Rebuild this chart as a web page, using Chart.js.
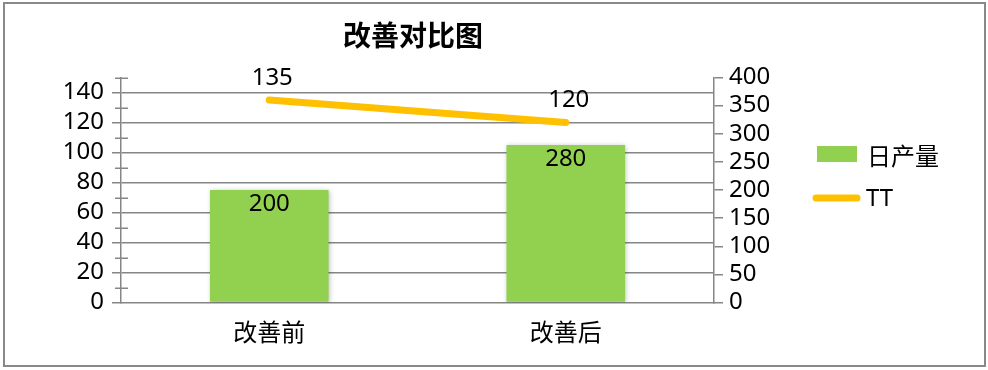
<!DOCTYPE html>
<html>
<head>
<meta charset="utf-8">
<script src="https://cdn.jsdelivr.net/npm/chart.js@4/dist/chart.umd.min.js"></script>
<style>
  html, body { margin: 0; padding: 0; background: #fff; }
  #wrap { width: 988px; height: 370px; position: relative; }
</style>
</head>
<body>
<div id="wrap"><canvas id="chart" width="988" height="370"></canvas></div>
<script>
// chart data
const categories = ['改善前', '改善后'];
const dailyOutput = [200, 280];   // 日产量, right axis
const ttValues = [135, 120];      // TT, left axis

// axis ranges
const leftMax = 150, leftStep = 10, leftLabelStep = 20;
const rightMax = 400, rightStep = 50;

const axisGray = '#868686';
const barGreen = '#92D050';
const lineOrange = '#FFC000';
const numFont = '"Noto Sans", "Open Sans", sans-serif';
const cjkFont = '"Noto Sans CJK SC", "Noto Sans", sans-serif';

// draws title, frame, legend, minor ticks and value labels
const extrasPlugin = {
  id: 'extras',
  beforeDatasetDraw(chart, args) {
    if (args.index === 0) {
      const ctx = chart.ctx;
      ctx.save();
      ctx.shadowColor = 'rgba(0,0,0,0.28)';
      ctx.shadowBlur = 5;
      ctx.shadowOffsetX = 1;
      ctx.shadowOffsetY = 1;
    }
  },
  afterDatasetDraw(chart, args) {
    if (args.index === 0) chart.ctx.restore();
  },
  afterDraw(chart) {
    const ctx = chart.ctx;
    ctx.save();

    // outer frame
    ctx.strokeStyle = '#898989';
    ctx.lineWidth = 2;
    ctx.strokeRect(4, 3, 981, 363);

    // title
    ctx.fillStyle = '#000';
    ctx.font = 'bold 28px ' + cjkFont;
    ctx.textAlign = 'center';
    ctx.textBaseline = 'middle';
    ctx.fillText('改善对比图', 413, 35);

    // minor ticks on left axis (cross the axis line)
    const yL = chart.scales.yL;
    ctx.strokeStyle = axisGray;
    ctx.lineWidth = 1.5;
    for (let v = leftStep; v <= leftMax; v += leftLabelStep) {
      const py = Math.round(yL.getPixelForValue(v)) + 0.25;
      ctx.beginPath();
      ctx.moveTo(yL.right - 6, py);
      ctx.lineTo(yL.right + 7, py);
      ctx.stroke();
    }

    // value labels
    ctx.fillStyle = '#000';
    ctx.font = '24px ' + numFont;
    ctx.textAlign = 'center';
    ctx.textBaseline = 'middle';
    chart.getDatasetMeta(0).data.forEach((el, i) => {
      ctx.fillText(String(dailyOutput[i]), el.x, el.y + 14);
    });
    chart.getDatasetMeta(1).data.forEach((el, i) => {
      ctx.fillText(String(ttValues[i]), el.x + 3, el.y - 22);
    });

    // legend
    const ds = chart.data.datasets;
    ctx.fillStyle = ds[0].backgroundColor;
    ctx.fillRect(817, 146, 40, 16);
    ctx.strokeStyle = ds[1].borderColor;
    ctx.lineWidth = 7;
    ctx.lineCap = 'round';
    ctx.beginPath();
    ctx.moveTo(816, 198);
    ctx.lineTo(857, 198);
    ctx.stroke();
    ctx.fillStyle = '#000';
    ctx.textAlign = 'left';
    ctx.font = '24px ' + cjkFont;
    ctx.fillText(ds[0].label, 867, 156);
    ctx.font = '24px ' + numFont;
    ctx.fillText(ds[1].label, 866, 199);

    ctx.restore();
  }
};

new Chart(document.getElementById('chart'), {
  data: {
    labels: categories,
    datasets: [
      {
        type: 'bar',
        label: '日产量',
        data: dailyOutput,
        yAxisID: 'yR',
        backgroundColor: barGreen,
        borderWidth: 0,
        barPercentage: 0.4,
        categoryPercentage: 1,
        order: 2
      },
      {
        type: 'line',
        label: 'TT',
        data: ttValues,
        yAxisID: 'yL',
        borderColor: lineOrange,
        backgroundColor: lineOrange,
        borderWidth: 7,
        borderCapStyle: 'round',
        pointRadius: 0,
        tension: 0,
        order: 1
      }
    ]
  },
  options: {
    responsive: false,
    animation: false,
    layout: { padding: { top: 77.5, left: 0, right: 0, bottom: 0 } },
    plugins: {
      legend: { display: false },
      title: { display: false },
      tooltip: { enabled: false }
    },
    scales: {
      x: {
        grid: { display: false, drawTicks: false },
        border: { display: true, color: axisGray, width: 1.5 },
        ticks: { color: '#000', font: { family: cjkFont, size: 24 }, padding: 15 },
        afterFit(scale) { scale.height = 67.5; }
      },
      yL: {
        position: 'left',
        min: 0,
        max: leftMax,
        ticks: {
          stepSize: leftStep,
          autoSkip: false,
          color: '#000',
          font: { family: numFont, size: 24 },
          padding: 8,
          callback: v => (v % leftLabelStep === 0 && v < leftMax) ? String(v) : ''
        },
        grid: {
          color: c => (c.tick && c.tick.value % leftLabelStep === 0 && c.tick.value > 0 && c.tick.value < leftMax) ? axisGray : 'rgba(0,0,0,0)',
          tickColor: c => (c.tick && c.tick.value % leftLabelStep === 0 && c.tick.value < leftMax) ? axisGray : 'rgba(0,0,0,0)',
          lineWidth: 1.5,
          tickLength: 9
        },
        border: { display: true, color: axisGray, width: 1.5 },
        afterFit(scale) { scale.width = 121; }
      },
      yR: {
        position: 'right',
        min: 0,
        max: rightMax,
        ticks: {
          stepSize: rightStep,
          autoSkip: false,
          color: '#000',
          font: { family: numFont, size: 24 },
          padding: 6
        },
        grid: {
          drawOnChartArea: false,
          tickColor: axisGray,
          lineWidth: 1.5,
          tickLength: 9
        },
        border: { display: true, color: axisGray, width: 1.5 },
        afterFit(scale) { scale.width = 274; }
      }
    }
  },
  plugins: [extrasPlugin]
});
</script>
</body>
</html>
